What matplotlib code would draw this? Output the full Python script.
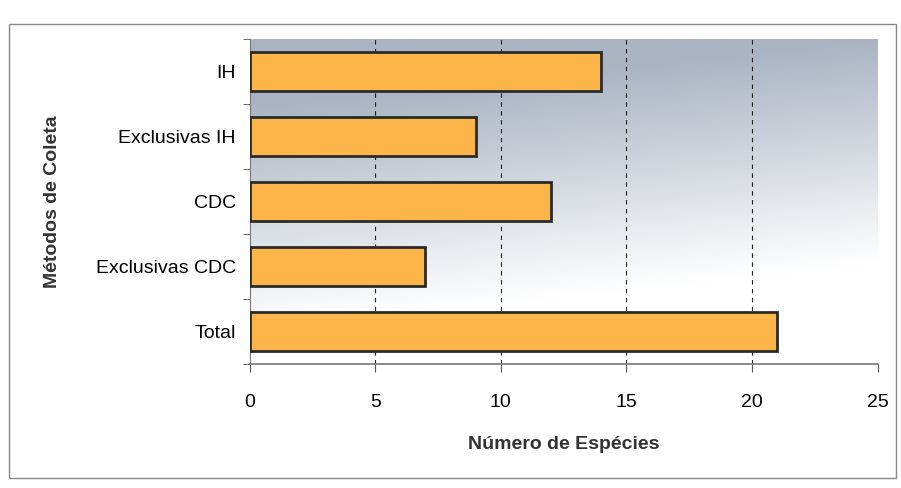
import matplotlib
matplotlib.use("Agg")
import matplotlib.pyplot as plt
import numpy as np
from matplotlib.patches import Rectangle

categories = ["IH", "Exclusivas IH", "CDC", "Exclusivas CDC", "Total"]
values = [14, 9, 12, 7, 21]
xticks = [0, 5, 10, 15, 20, 25]

plt.rcParams['font.family'] = ['Liberation Sans', 'DejaVu Sans']

fig = plt.figure(figsize=(9.01, 4.88), dpi=100)
ax = fig.add_axes([0.277, 0.255, 0.697, 0.665])

# gradient background (row 0 = top)
ny, nx = 200, 200
vv, xx = np.mgrid[0:1:ny*1j, 0:1:nx*1j]
t = np.clip(vv * 1.45 + xx * 0.3 - 0.3, 0, 1)
top = np.array([170, 180, 195]) / 255
bot = np.array([255, 255, 255]) / 255
img = top[None, None, :] * (1 - t[..., None]) + bot[None, None, :] * t[..., None]
ax.imshow(img, extent=[0, 1, 0, 1], transform=ax.transAxes, aspect='auto',
          zorder=0, origin='upper')

ypos = np.arange(len(categories))
ax.barh(ypos, values, height=0.6, color="#FDB54A", edgecolor="#2b2b2b",
        linewidth=2, zorder=3)

ax.set_xlim(0, 25)
ax.set_ylim(4.5, -0.5)
ax.set_xticks(xticks)
ax.set_xticklabels([str(v) for v in xticks], fontsize=14)
ax.set_yticks(ypos)
ax.set_yticklabels(categories, fontsize=14)
ax.tick_params(axis='y', length=0, pad=10)
ax.set_yticks(np.arange(-0.5, 4.6, 1.0), minor=True)
ax.tick_params(axis='y', which='minor', length=5, color='#555555')
ax.tick_params(axis='x', length=6, pad=16, color='#555555')

for v in xticks[1:-1]:
    ax.axvline(v, color='#222222', linestyle=(0, (4, 4)), linewidth=0.8, zorder=1)

for s in ['top', 'right']:
    ax.spines[s].set_visible(False)
ax.spines['left'].set_color('#777777')
ax.spines['bottom'].set_color('#777777')
ax.spines['bottom'].set_linewidth(1.2)

ax.set_xlabel("Número de Espécies", fontsize=14, fontweight='bold', color='#333333', labelpad=18)
ax.set_ylabel("Métodos de Coleta", fontsize=14, fontweight='bold', color='#333333', labelpad=10)
ax.yaxis.set_label_coords(-0.3, 0.5)

fig.patches.append(Rectangle((0.01, 0.02), 0.985, 0.93, transform=fig.transFigure,
                             fill=False, edgecolor='#888888', linewidth=1))

fig.savefig("out.png", dpi=100)
